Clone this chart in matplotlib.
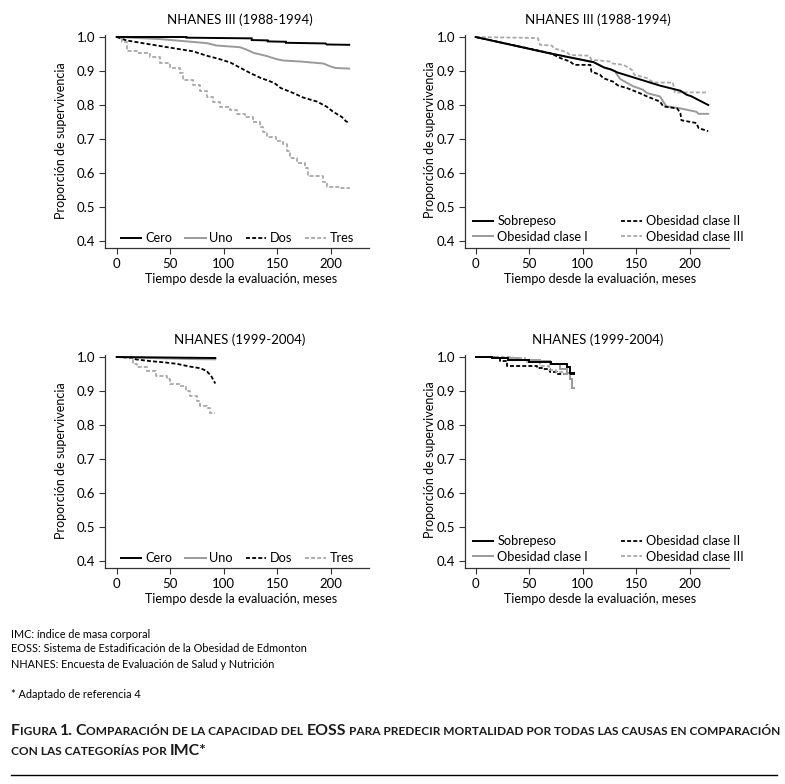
import matplotlib
matplotlib.use('Agg')
import matplotlib.pyplot as plt
from matplotlib.lines import Line2D

plt.rcParams['font.family'] = ['Lato', 'DejaVu Sans']

# ---------------- data (curve vertices: months, survival proportion) ----------------
# NHANES III (1988-1994), EOSS stages
eoss3_cero_t = [0, 65, 65, 126, 126, 141, 141, 158, 158, 195, 196, 217]
eoss3_cero_s = [1.0, 1.0, 0.998, 0.996, 0.991, 0.990, 0.987, 0.986, 0.983, 0.981, 0.978, 0.977]
eoss3_uno_t = [0, 40, 84, 93, 115, 121, 128, 135, 140, 149, 155, 171, 193, 199, 204, 217]
eoss3_uno_s = [1.0, 0.994, 0.982, 0.975, 0.970, 0.963, 0.953, 0.948, 0.944, 0.935, 0.931, 0.928, 0.922,
               0.914, 0.909, 0.907]
eoss3_dos_t = [0, 9, 28, 53, 71, 84, 96, 106, 115, 124, 134, 147, 153, 165, 174, 187, 196, 202, 210, 214, 217]
eoss3_dos_s = [1.0, 0.990, 0.980, 0.967, 0.958, 0.945, 0.935, 0.925, 0.910, 0.895, 0.880, 0.865, 0.850,
               0.835, 0.822, 0.810, 0.795, 0.780, 0.765, 0.752, 0.748]
eoss3_tres_t = [0, 4.7, 9.3, 18.7, 31, 40, 50, 59, 62, 71.5, 78, 84, 90, 96, 106, 112, 120, 127.5, 134,
                137, 140, 149, 155.5, 158.6, 161.7, 168, 175.7, 178.8, 192.8, 196, 208, 217]
eoss3_tres_s = [1.0, 0.985, 0.960, 0.952, 0.940, 0.925, 0.910, 0.895, 0.875, 0.860, 0.840, 0.825, 0.810,
                0.795, 0.785, 0.775, 0.765, 0.750, 0.735, 0.720, 0.705, 0.695, 0.685, 0.665, 0.645, 0.630,
                0.615, 0.590, 0.575, 0.560, 0.555, 0.553]

# NHANES III (1988-1994), BMI categories
imc3_sob_t = [0, 69, 110, 120, 126, 132, 172, 191, 193, 197, 201, 217]
imc3_sob_s = [1.0, 0.952, 0.926, 0.910, 0.905, 0.896, 0.857, 0.842, 0.838, 0.830, 0.826, 0.800]
imc3_ob1_t = [0, 69, 110, 120, 130, 132, 135, 147, 156, 160, 172, 175, 178, 191, 206, 208, 217]
imc3_ob1_s = [1.0, 0.952, 0.926, 0.910, 0.900, 0.889, 0.876, 0.855, 0.845, 0.835, 0.825, 0.810, 0.796,
              0.790, 0.780, 0.774, 0.774]
imc3_ob2_t = [0, 70, 79, 88, 92, 107, 108, 116, 119, 128, 133, 141, 153, 160, 172, 175, 188, 191, 192,
              206, 208, 217]
imc3_ob2_s = [1.0, 0.952, 0.938, 0.928, 0.918, 0.918, 0.898, 0.889, 0.879, 0.869, 0.857, 0.850, 0.835,
              0.825, 0.810, 0.796, 0.790, 0.776, 0.755, 0.747, 0.732, 0.723]
imc3_ob3_t = [0, 58, 60, 71, 73, 85, 88, 106, 108, 125, 128, 138, 146, 148, 160, 166, 184, 186, 217]
imc3_ob3_s = [1.0, 0.997, 0.977, 0.975, 0.967, 0.955, 0.947, 0.945, 0.933, 0.928, 0.922, 0.918, 0.903,
              0.889, 0.879, 0.866, 0.866, 0.837, 0.837]

# NHANES (1999-2004), EOSS stages
eoss9_cero_t = [0, 30, 60, 92]
eoss9_cero_s = [1.0, 0.999, 0.998, 0.997]
eoss9_uno_t = [0, 20, 45, 70, 92]
eoss9_uno_s = [1.0, 0.998, 0.996, 0.994, 0.993]
eoss9_dos_t = [0, 14, 18, 31, 45, 56, 68, 78, 84, 85, 88, 91, 92]
eoss9_dos_s = [1.0, 0.998, 0.993, 0.988, 0.984, 0.980, 0.972, 0.967, 0.959, 0.955, 0.945, 0.928, 0.922]
eoss9_tres_t = [0, 14, 15.5, 18.7, 28, 37, 47, 50, 59, 65, 68, 75, 78, 84, 87, 92]
eoss9_tres_s = [1.0, 0.998, 0.978, 0.970, 0.959, 0.944, 0.934, 0.920, 0.915, 0.900, 0.885, 0.871, 0.856,
                0.851, 0.836, 0.835]

# NHANES (1999-2004), BMI categories
imc9_sob_t = [0, 15, 30, 50, 70, 85, 88, 92]
imc9_sob_s = [1.0, 0.996, 0.990, 0.985, 0.980, 0.970, 0.952, 0.950]
imc9_ob1_t = [0, 20, 40, 60, 69, 79, 85, 88, 90, 92]
imc9_ob1_s = [1.0, 0.996, 0.992, 0.988, 0.978, 0.964, 0.954, 0.935, 0.910, 0.910]
imc9_ob2_t = [0, 23, 29, 48, 57, 63, 69, 76, 92]
imc9_ob2_s = [1.0, 0.988, 0.975, 0.975, 0.969, 0.964, 0.957, 0.950, 0.950]
imc9_ob3_t = [0, 35, 46, 60, 68, 75, 82, 88]
imc9_ob3_s = [1.0, 0.996, 0.985, 0.975, 0.962, 0.955, 0.950, 0.950]

eoss_labels = ['Cero', 'Uno', 'Dos', 'Tres']
imc_labels = ['Sobrepeso', 'Obesidad clase I', 'Obesidad clase II', 'Obesidad clase III']
titles = ['NHANES III (1988-1994)', 'NHANES III (1988-1994)', 'NHANES (1999-2004)', 'NHANES (1999-2004)']
x_ticks = [0, 50, 100, 150, 200]
y_ticks = [0.4, 0.5, 0.6, 0.7, 0.8, 0.9, 1.0]
y_ticklabels = ['0.4', '0.5', '0.6', '0.7', '0.8', '0.9', '1.0']
xlabel = 'Tiempo desde la evaluación, meses'
ylabel = 'Proporción de supervivencia'
footnotes = ['IMC: índice de masa corporal',
             'EOSS: Sistema de Estadificación de la Obesidad de Edmonton',
             'NHANES: Encuesta de Evaluación de Salud y Nutrición']
reference_note = '* Adaptado de referencia 4'

# ---------------- styles ----------------
styles = [dict(color='black', ls='-', lw=1.4),
          dict(color='#9a9a9a', ls='-', lw=1.4),
          dict(color='black', ls=(0, (2.2, 1.2)), lw=1.3),
          dict(color='#a8a8a8', ls=(0, (2.2, 1.2)), lw=1.3)]

W, H = 785, 784
fig = plt.figure(figsize=(W / 100, H / 100), dpi=100)

FS_TICK = 9.5
FS_LAB = 9
FS_LEG = 9.2


def px(x, y):
    return (x / W, 1 - y / H)


def make_ax(x0, x1, ytop, ybot, zero_px, y1px, y04px):
    ax = fig.add_axes([x0 / W, 1 - ybot / H, (x1 - x0) / W, (ybot - ytop) / H])
    sc = (331 - 116.7) / 200.0
    ax.set_xlim((x0 - zero_px) / sc, (x1 - zero_px) / sc)
    ysc = (y04px - y1px) / 0.6
    ax.set_ylim(0.4 - (ybot - y04px) / ysc, 1.0 + (y1px - ytop) / ysc)
    for s in ['top', 'right']:
        ax.spines[s].set_visible(False)
    for s in ['left', 'bottom']:
        ax.spines[s].set_linewidth(0.9)
        ax.spines[s].set_color('#333333')
    ax.set_xticks(x_ticks)
    ax.set_yticks(y_ticks)
    ax.set_yticklabels(y_ticklabels)
    ax.tick_params(direction='out', length=4.5, width=0.8, labelsize=FS_TICK, pad=2.5, color='#333333')
    return ax


panels = [
    dict(rect=(105, 369, 35, 248), zero=116.7, y1=37, y04=241,
         series=[(eoss3_cero_t, eoss3_cero_s), (eoss3_uno_t, eoss3_uno_s), (eoss3_dos_t, eoss3_dos_s),
                 (eoss3_tres_t, eoss3_tres_s)], labels=eoss_labels, kind='eoss',
         draw=['default', 'default', 'default', 'steps-post'],
         title_xy=(240, 20), xl_xy=(241, 279), yl_xy=(61, 141), leg_xy=(121, 238)),
    dict(rect=(465, 729, 35, 248), zero=475.7, y1=37, y04=241,
         series=[(imc3_sob_t, imc3_sob_s), (imc3_ob1_t, imc3_ob1_s), (imc3_ob2_t, imc3_ob2_s),
                 (imc3_ob3_t, imc3_ob3_s)], labels=imc_labels, kind='imc',
         draw=['default'] * 4,
         title_xy=(598, 20), xl_xy=(600, 279), yl_xy=(430, 140), leg_xy=(473, 229)),
    dict(rect=(105, 369, 355, 568), zero=116.7, y1=357, y04=561,
         series=[(eoss9_cero_t, eoss9_cero_s), (eoss9_uno_t, eoss9_uno_s), (eoss9_dos_t, eoss9_dos_s),
                 (eoss9_tres_t, eoss9_tres_s)], labels=eoss_labels, kind='eoss',
         draw=['default', 'default', 'default', 'steps-post'],
         title_xy=(240, 340), xl_xy=(241, 599), yl_xy=(61, 461), leg_xy=(121, 558)),
    dict(rect=(465, 729, 355, 568), zero=475.7, y1=357, y04=561,
         series=[(imc9_sob_t, imc9_sob_s), (imc9_ob1_t, imc9_ob1_s), (imc9_ob2_t, imc9_ob2_s),
                 (imc9_ob3_t, imc9_ob3_s)], labels=imc_labels, kind='imc',
         draw=['steps-post'] * 4,
         title_xy=(598, 340), xl_xy=(600, 599), yl_xy=(430, 460), leg_xy=(473, 549)),
]

for i, p in enumerate(panels):
    x0, x1, yt, yb = p['rect']
    ax = make_ax(x0, x1, yt, yb, p['zero'], p['y1'], p['y04'])
    handles = []
    for (t, s), st, lab, dsty in zip(p['series'], styles, p['labels'], p['draw']):
        ln, = ax.plot(t, s, drawstyle=dsty, label=lab, solid_joinstyle='miter', **st)
        handles.append(ln)
    handles[0].set_zorder(5)
    fig.text(*px(*p['title_xy']), titles[i], ha='center', va='center', fontsize=FS_LAB + 0.5)
    fig.text(*px(*p['xl_xy']), xlabel, ha='center', va='center', fontsize=FS_LAB)
    fig.text(*px(*p['yl_xy']), ylabel, ha='center', va='center', rotation=90, fontsize=FS_LAB)
    if p['kind'] == 'eoss':
        ax.legend(handles=handles, loc='center left', bbox_to_anchor=px(*p['leg_xy']),
                  bbox_transform=fig.transFigure, ncol=4, frameon=False, fontsize=FS_LEG,
                  handlelength=1.6, handletextpad=0.3, columnspacing=1.0, borderpad=0, borderaxespad=0)
    else:
        ax.legend(handles=handles, loc='center left', bbox_to_anchor=px(*p['leg_xy']),
                  bbox_transform=fig.transFigure, ncol=2, frameon=False, fontsize=FS_LEG,
                  handlelength=1.6, handletextpad=0.3, columnspacing=2.6, labelspacing=0.25,
                  borderpad=0, borderaxespad=0)

# footnotes
for k, line in enumerate(footnotes):
    fig.text(*px(11, 634 + 15 * k), line, ha='left', va='center', fontsize=7.8)
fig.text(*px(11, 694), reference_note, ha='left', va='center', fontsize=7.8)

# caption in small caps
renderer = fig.canvas.get_renderer()


def seg_width(txt, size):
    t = fig.text(0, 0, txt, fontsize=size, fontweight='bold')
    w = t.get_window_extent(renderer=renderer).width
    t.remove()
    return w


def line_width(segs, big, small):
    total = 0
    sp = seg_width('a a', small) - seg_width('aa', small)
    for txt, isbig, space_after in segs:
        total += seg_width(txt, big if isbig else small)
        if space_after:
            total += sp
    return total


def draw_line(x, y, segs, big, small):
    sp = seg_width('a a', small) - seg_width('aa', small)
    for txt, isbig, space_after in segs:
        size = big if isbig else small
        t = fig.text(*px(x, y), txt, fontsize=size, fontweight='bold', ha='left', va='baseline',
                     color='#1a1a1a')
        x += t.get_window_extent(renderer=renderer).width
        if space_after:
            x += sp


line1 = [('F', True, False), ('IGURA', False, True), ('1.', True, True), ('C', True, False),
         ('OMPARACIÓN DE LA CAPACIDAD DEL', False, True), ('EOSS', True, True),
         ('PARA PREDECIR MORTALIDAD POR TODAS LAS CAUSAS EN COMPARACIÓN', False, False)]
line2 = [('CON LAS CATEGORÍAS POR', False, True), ('IMC*', True, False)]

big0, small0 = 11.5, 8.6
w1 = line_width(line1, big0, small0)
f = 766.0 / w1
big, small = big0 * f, small0 * f
draw_line(11, 735, line1, big, small)
draw_line(11, 755, line2, big, small)

fig.add_artist(Line2D([11 / W, 777 / W], [1 - 775 / H, 1 - 775 / H], color='black', lw=1.0))

fig.savefig('out.png', dpi=100)
